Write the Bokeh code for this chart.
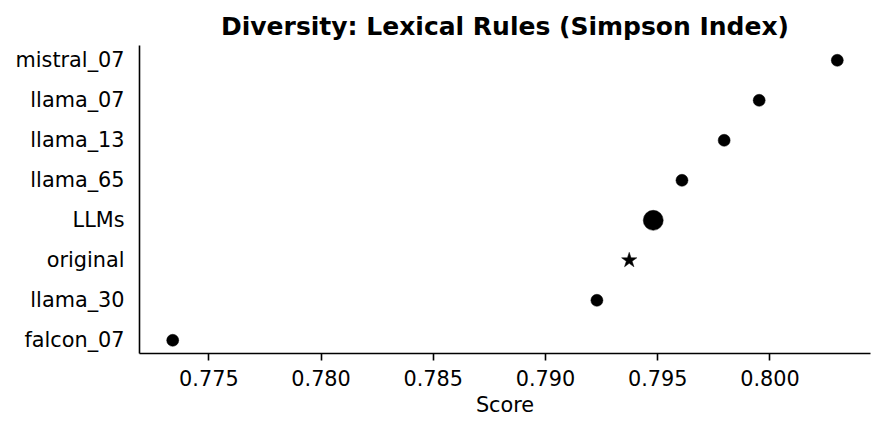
from bokeh.plotting import figure
from bokeh.models import ColumnDataSource, Range1d, FixedTicker, PrintfTickFormatter
from bokeh.embed import file_html
from bokeh.resources import INLINE

# data (bottom to top)
models = ["falcon_07", "llama_30", "original", "LLMs", "llama_65", "llama_13", "llama_07", "mistral_07"]
scores = [0.77339, 0.79229, 0.79373, 0.79480, 0.79608, 0.79796, 0.79952, 0.80300]
x_ticks = [0.775, 0.780, 0.785, 0.790, 0.795, 0.800]

ypos = list(range(len(models)))
markers = ["star" if m == "original" else "circle" for m in models]
sizes = [20 if m == "LLMs" else (16 if m == "original" else 12) for m in models]

src = ColumnDataSource(dict(x=scores, y=ypos, marker=markers, size=sizes, name=models))

FONT = "DejaVu Sans"

p = figure(width=877, height=423, output_backend="svg", toolbar_location=None,
           x_range=Range1d(0.77191, 0.80448), y_range=Range1d(-0.33, 7.37),
           min_border_left=139, min_border_right=7, min_border_top=45, min_border_bottom=70,
           title="Diversity: Lexical Rules (Simpson Index)")

p.scatter(x="x", y="y", marker="marker", size="size", source=src,
          fill_color="black", line_color="black", line_width=0.5)

p.outline_line_color = None
p.xgrid.grid_line_color = None
p.ygrid.grid_line_color = None

p.title.align = "center"
p.title.text_font = FONT
p.title.text_font_style = "bold"
p.title.text_font_size = "25px"
p.title.text_color = "black"

for ax in (p.xaxis, p.yaxis):
    ax.axis_line_color = "black"
    ax.axis_line_width = 1.6
    ax.major_tick_line_width = 1.6
    ax.minor_tick_line_color = None
    ax.major_label_text_font = FONT
    ax.major_label_text_font_size = "20.8px"
    ax.major_label_text_color = "black"
    ax.axis_label_text_font = FONT
    ax.axis_label_text_font_size = "20.8px"
    ax.axis_label_text_font_style = "normal"
    ax.axis_label_text_color = "black"

p.xaxis.ticker = FixedTicker(ticks=x_ticks)
p.xaxis.formatter = PrintfTickFormatter(format="%.3f")
p.xaxis.axis_label = "Score"
p.xaxis.major_tick_line_color = "black"
p.xaxis.major_tick_out = 7
p.xaxis.major_tick_in = 0
p.xaxis.major_label_standoff = 9
p.xaxis.axis_label_standoff = 4

p.yaxis.ticker = FixedTicker(ticks=ypos)
p.yaxis.major_label_overrides = {i: m for i, m in enumerate(models)}
p.yaxis.major_tick_line_color = None
p.yaxis.major_tick_out = 0
p.yaxis.major_tick_in = 0
p.yaxis.major_label_standoff = 15

open("out.html", "w").write(file_html(p, INLINE))
